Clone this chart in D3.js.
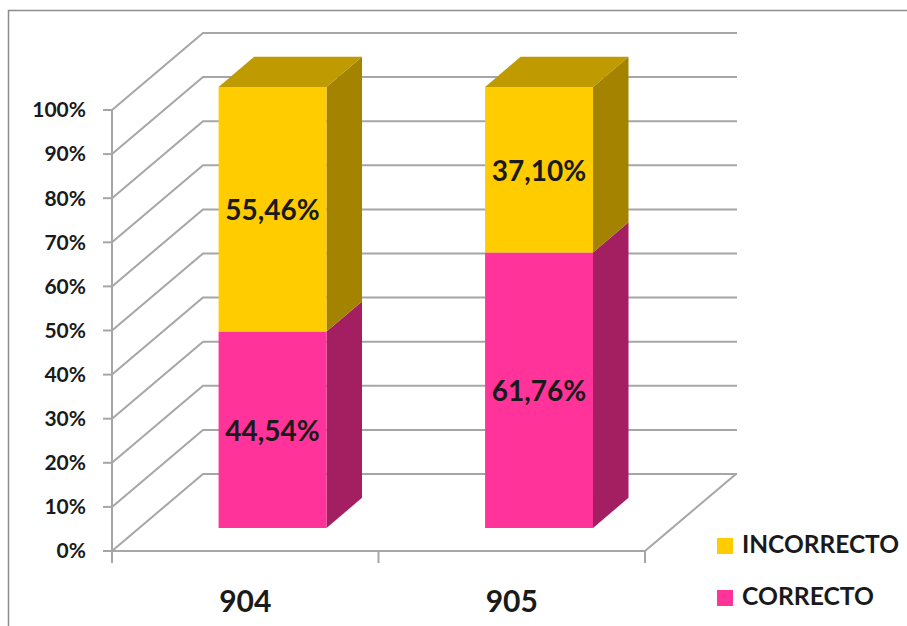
<!DOCTYPE html>
<html>
<head>
<meta charset="utf-8">
<script src="https://cdn.jsdelivr.net/npm/d3@7"></script>
<style>
  body { margin: 0; background: #fff; }
  svg { display: block; }
</style>
</head>
<body>
<svg width="907" height="626"></svg>
<script>
// data
const categories = ["904", "905"];
const seriesNames = ["CORRECTO", "INCORRECTO"];
const correcto = [44.54, 61.76];
const incorrecto = [55.46, 37.10];
const labels = { CORRECTO: ["44,54%", "61,76%"], INCORRECTO: ["55,46%", "37,10%"] };
const yTicks = [0, 0.1, 0.2, 0.3, 0.4, 0.5, 0.6, 0.7, 0.8, 0.9, 1];

const colors = {
  CORRECTO: { front: "#ff3399", side: "#a31f62", top: "#c42a78" },
  INCORRECTO: { front: "#ffcc00", side: "#a38300", top: "#bf9a00" }
};

const svg = d3.select("svg");
const font = "Lato, 'Open Sans', sans-serif";

// chart frame (only top and left edges visible)
svg.append("path")
  .attr("d", "M8.5,640 L8.5,10.5 L920,10.5")
  .attr("fill", "none")
  .attr("stroke", "#8c8c8c")
  .attr("stroke-width", 1.5);

// 3d geometry
const depthX = 91, depthY = -77;
const x = d3.scaleBand().domain(categories).range([112, 645]).padding(0);
const y = d3.scaleLinear().domain([0, 1]).range([551, 110]);
const barFrac = 0.405;
const d0 = 0.3, d1 = 0.69;

const proj = (px, py, d) => [px + depthX * d, py + depthY * d];

const table = categories.map((c, i) => ({ cat: c, CORRECTO: correcto[i], INCORRECTO: incorrecto[i] }));
const stacked = d3.stack().keys(seriesNames).offset(d3.stackOffsetExpand)(table);

const grid = svg.append("g")
  .attr("fill", "none")
  .attr("stroke", "#a6a6a6")
  .attr("stroke-width", 2);

// walls
yTicks.forEach((t) => {
  const a = [112, y(t)];
  const b = proj(112, y(t), 1);
  const c = [737, b[1]];
  grid.append("path").attr("d", `M${a}L${b}L${c}`);
});
// floor right edge
grid.append("path").attr("d", `M645,${y(0)}L${proj(645, y(0), 1)}`);

// y axis
const yAxis = svg.append("g");
yAxis.append("line")
  .attr("x1", 112).attr("x2", 112)
  .attr("y1", y(1)).attr("y2", y(0))
  .attr("stroke", "#a6a6a6").attr("stroke-width", 2);
yTicks.forEach((t) => {
  yAxis.append("line")
    .attr("x1", 103).attr("x2", 112)
    .attr("y1", y(t)).attr("y2", y(t))
    .attr("stroke", "#a6a6a6").attr("stroke-width", 2);
  yAxis.append("text")
    .attr("x", 86).attr("y", y(t) + 2)
    .attr("text-anchor", "end")
    .attr("dominant-baseline", "middle")
    .attr("font-family", font)
    .attr("font-weight", "bold")
    .attr("font-size", 21)
    .attr("fill", "#1a1a1a")
    .text(d3.format(".0%")(t));
});

// x axis
const xAxis = svg.append("g");
xAxis.append("line")
  .attr("x1", 112).attr("x2", 645)
  .attr("y1", y(0)).attr("y2", y(0))
  .attr("stroke", "#a6a6a6").attr("stroke-width", 2);
[112, ...categories.map((c) => x(c) + x.bandwidth())].forEach((tx) => {
  xAxis.append("line")
    .attr("x1", tx).attr("x2", tx)
    .attr("y1", y(0)).attr("y2", y(0) + 12)
    .attr("stroke", "#a6a6a6").attr("stroke-width", 2);
});
categories.forEach((c) => {
  xAxis.append("text")
    .attr("x", x(c) + x.bandwidth() / 2)
    .attr("y", 612)
    .attr("text-anchor", "middle")
    .attr("font-family", font)
    .attr("font-weight", "bold")
    .attr("font-size", 30)
    .attr("fill", "#1a1a1a")
    .text(c);
});

// bars
const bars = svg.append("g");
categories.forEach((c, i) => {
  const bw = x.bandwidth() * barFrac;
  const xl = x(c) + (x.bandwidth() - bw) / 2;
  const xr = xl + bw;
  stacked.forEach((layer, li) => {
    const key = layer.key;
    const [v0, v1] = layer[i];
    const col = colors[key];
    const fbl = proj(xl, y(v0), d0), fbr = proj(xr, y(v0), d0);
    const ftl = proj(xl, y(v1), d0), ftr = proj(xr, y(v1), d0);
    const bbr = proj(xr, y(v0), d1), btr = proj(xr, y(v1), d1), btl = proj(xl, y(v1), d1);
    // side
    bars.append("path").attr("d", `M${fbr}L${bbr}L${btr}L${ftr}Z`).attr("fill", col.side);
    // front
    bars.append("path").attr("d", `M${fbl}L${fbr}L${ftr}L${ftl}Z`).attr("fill", col.front);
    // top
    if (li === stacked.length - 1) {
      bars.append("path").attr("d", `M${ftl}L${ftr}L${btr}L${btl}Z`).attr("fill", col.top);
    }
    const mid = proj((xl + xr) / 2, y((v0 + v1) / 2), d0);
    bars.append("text")
      .attr("x", mid[0]).attr("y", mid[1] + 4)
      .attr("text-anchor", "middle")
      .attr("dominant-baseline", "middle")
      .attr("font-family", font)
      .attr("font-weight", "bold")
      .attr("font-size", 28)
      .attr("fill", "#1a1a1a")
      .text(labels[key][i]);
  });
});

// legend
const legend = svg.append("g");
const legendWidths = { INCORRECTO: 157, CORRECTO: 132 };
["INCORRECTO", "CORRECTO"].forEach((k, i) => {
  const ly = 546 + i * 52;
  legend.append("rect")
    .attr("x", 717).attr("y", ly - 8)
    .attr("width", 16).attr("height", 16)
    .attr("fill", colors[k].front);
  legend.append("text")
    .attr("x", 742).attr("y", ly + 1)
    .attr("dominant-baseline", "middle")
    .attr("font-family", font)
    .attr("font-weight", "bold")
    .attr("font-size", 25)
    .attr("textLength", legendWidths[k])
    .attr("lengthAdjust", "spacingAndGlyphs")
    .attr("fill", "#1a1a1a")
    .text(k);
});
</script>
</body>
</html>
